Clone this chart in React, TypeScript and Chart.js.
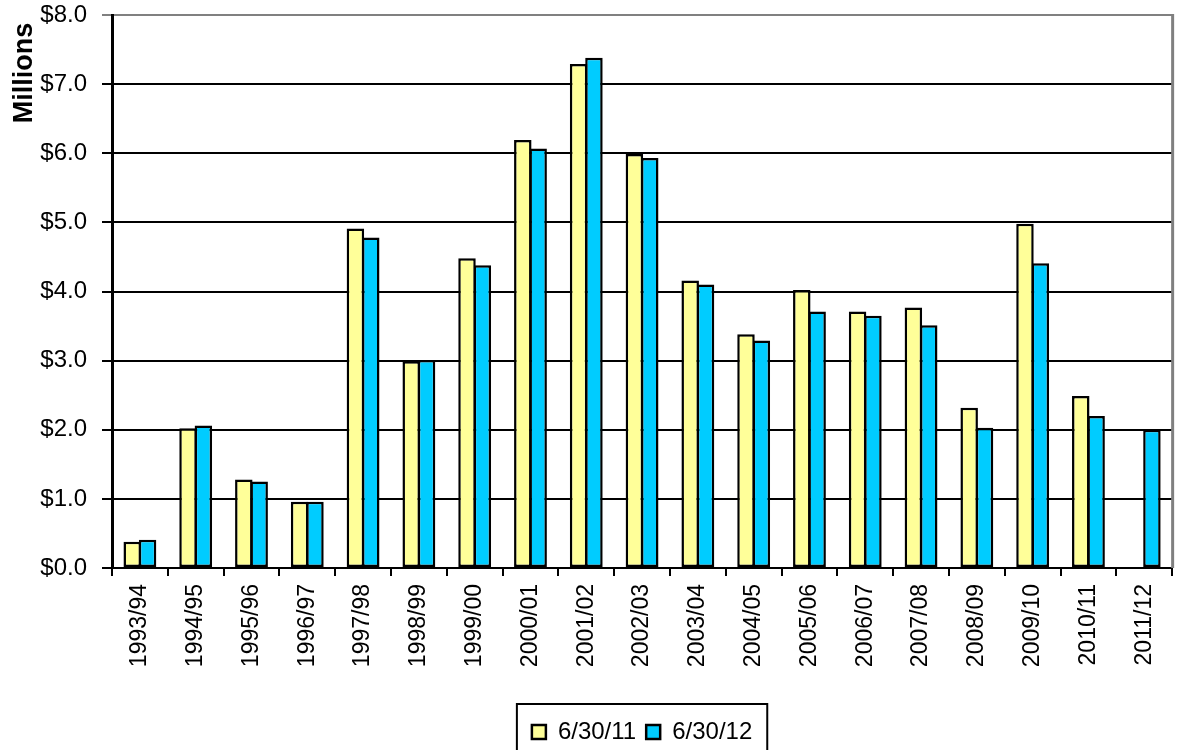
import React, { useEffect, useRef } from "react";
import { Chart, registerables } from "chart.js";

Chart.register(...registerables);

const categories = [
  "1993/94", "1994/95", "1995/96", "1996/97", "1997/98", "1998/99", "1999/00",
  "2000/01", "2001/02", "2002/03", "2003/04", "2004/05", "2005/06", "2006/07",
  "2007/08", "2008/09", "2009/10", "2010/11", "2011/12",
];

const seriesLabels = ["6/30/11", "6/30/12"];

const values2011: (number | null)[] = [
  0.38, 2.02, 1.28, 0.96, 4.91, 2.99, 4.48, 6.19, 7.29, 5.99,
  4.16, 3.38, 4.02, 3.71, 3.77, 2.32, 4.98, 2.49, null,
];

const values2012: (number | null)[] = [
  0.41, 2.06, 1.25, 0.96, 4.78, 3.01, 4.38, 6.07, 7.38, 5.93,
  4.10, 3.29, 3.71, 3.65, 3.51, 2.03, 4.41, 2.20, 2.00,
];

const yMin = 0;
const yMax = 8;
const yStep = 1;
const yAxisTitle = "Millions";

const FONT = "'Liberation Sans', Arial, Helvetica, sans-serif";

const framePlugin = {
  id: "excelFrame",
  afterDraw(chart: any) {
    const { ctx, chartArea } = chart;
    ctx.save();
    // gray right border of plot area
    ctx.strokeStyle = "#808080";
    ctx.lineWidth = 3;
    ctx.beginPath();
    ctx.moveTo(chartArea.right + 0.5, chartArea.top - 1);
    ctx.lineTo(chartArea.right + 0.5, chartArea.bottom);
    ctx.stroke();
    // legend frame
    const lg = chart.legend;
    const boxes = lg && lg.legendHitBoxes;
    if (boxes && boxes.length) {
      const left = Math.min(...boxes.map((b: any) => b.left)) - 15;
      const right = Math.max(...boxes.map((b: any) => b.left + b.width)) + 15;
      const cy = boxes[0].top + boxes[0].height / 2;
      ctx.strokeStyle = "#000";
      ctx.lineWidth = 2;
      ctx.strokeRect(left, cy - 28, right - left, 70);
    }
    // y axis title (rotated, placed at top of axis)
    ctx.fillStyle = "#000";
    ctx.font = `bold 27px ${FONT}`;
    ctx.textAlign = "center";
    ctx.textBaseline = "alphabetic";
    ctx.translate(32, 73);
    ctx.rotate(-Math.PI / 2);
    ctx.fillText(yAxisTitle, 0, 0);
    ctx.restore();
  },
};

export default function App() {
  const canvasRef = useRef<HTMLCanvasElement | null>(null);

  useEffect(() => {
    if (!canvasRef.current) return;
    Chart.defaults.font.family = FONT;
    const chart = new Chart(canvasRef.current, {
      type: "bar",
      data: {
        labels: categories,
        datasets: [
          {
            label: seriesLabels[0],
            data: values2011,
            backgroundColor: "#FFFF99",
            borderColor: "#000000",
            borderWidth: 2.5,
            borderSkipped: false,
            categoryPercentage: 0.55,
            barPercentage: 1.14,
          },
          {
            label: seriesLabels[1],
            data: values2012,
            backgroundColor: "#00CCFF",
            borderColor: "#000000",
            borderWidth: 2.5,
            borderSkipped: false,
            categoryPercentage: 0.55,
            barPercentage: 1.14,
          },
        ],
      },
      options: {
        animation: false,
        responsive: true,
        maintainAspectRatio: false,
        layout: { padding: { top: 15, right: 6, left: 0, bottom: 0 } },
        plugins: {
          tooltip: { enabled: false },
          legend: {
            position: "bottom",
            fullSize: false,
            labels: {
              color: "#000",
              font: { size: 24, family: FONT },
              boxWidth: 14,
              boxHeight: 14,
              padding: 10,
            },
          },
        },
        scales: {
          x: {
            grid: {
              display: true,
              drawOnChartArea: false,
              drawTicks: true,
              tickLength: 8,
              offset: true,
              color: "#000",
              lineWidth: 2,
            },
            border: { display: true, color: "#000", width: 2 },
            ticks: {
              color: "#000",
              font: { size: 23, family: FONT },
              minRotation: 90,
              maxRotation: 90,
              padding: 8,
              autoSkip: false,
            },
            afterFit: (scale: any) => {
              scale.height = 142;
            },
          },
          y: {
            min: yMin,
            max: yMax,
            grid: {
              color: (c: any) => (c.tick && c.tick.value === yMax ? "#808080" : "#000"),
              lineWidth: 2,
              tickLength: 10,
            },
            border: { display: true, color: "#000", width: 3 },
            ticks: {
              stepSize: yStep,
              color: "#000",
              font: { size: 24, family: FONT },
              padding: 15,
              callback: (v: any) => "$" + Number(v).toFixed(1),
            },
            title: { display: false },
            afterFit: (scale: any) => {
              scale.width = 112;
              scale.paddingTop = 0;
              scale.paddingBottom = 0;
            },
          },
        },
      },
      plugins: [framePlugin],
    });
    return () => chart.destroy();
  }, []);

  return (
    <div style={{ position: "fixed", left: 0, top: 0, width: 1180, height: 754, background: "#fff", overflow: "hidden" }}>
      <canvas ref={canvasRef} />
    </div>
  );
}
